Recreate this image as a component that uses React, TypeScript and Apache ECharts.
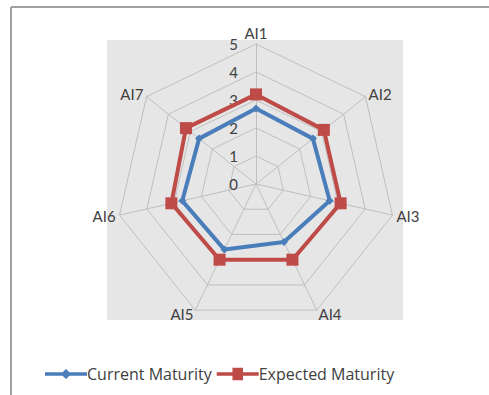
import React, { useEffect, useRef } from "react";
import * as echarts from "echarts";

const categories = ["AI1", "AI2", "AI3", "AI4", "AI5", "AI6", "AI7"];
const currentMaturity = [2.7, 2.6, 2.7, 2.3, 2.6, 2.7, 2.6];
const expectedMaturity = [3.2, 3.1, 3.1, 3.0, 3.0, 3.1, 3.2];
const seriesNames = ["Current Maturity", "Expected Maturity"];
const axisMax = 5;

// ECharts lays radar indicators counter-clockwise; reorder so they run clockwise like the reference
const order = [0, 6, 5, 4, 3, 2, 1];
const reorder = <T,>(arr: T[]) => order.map((i) => arr[i]);

const BLUE = "#4a7ebb";
const RED = "#be4b48";
const FONT = "Lato, 'Open Sans', sans-serif";
const LEGEND_FONT = "'Open Sans', Lato, sans-serif";

export default function App() {
  const ref = useRef<HTMLDivElement>(null);
  useEffect(() => {
    if (!ref.current) return;
    const chart = echarts.init(ref.current, undefined, { renderer: "svg" });
    chart.setOption({
      animation: false,
      backgroundColor: "#ffffff",
      textStyle: { fontFamily: FONT },
      graphic: [
        { type: "rect", shape: { x: 107, y: 40, width: 296, height: 280 }, style: { fill: "#e6e6e6" }, z: -10 },
        { type: "line", shape: { x1: 11, y1: 7, x2: 489, y2: 7 }, style: { stroke: "#a0a0a0", lineWidth: 2 } },
        { type: "line", shape: { x1: 11, y1: 7, x2: 11, y2: 395 }, style: { stroke: "#a0a0a0", lineWidth: 2 } },
      ],
      legend: {
        left: 45,
        top: 366,
        padding: 0,
        itemWidth: 42,
        itemHeight: 14,
        itemGap: 5,
        textStyle: { fontSize: 16, color: "#404040", fontFamily: LEGEND_FONT, padding: [0, 0, 0, -5] },
        data: [
          { name: seriesNames[0], icon: "path://M0,5H40V8.5H0Z M20,2L25,6.75L20,11.5L15,6.75Z", itemStyle: { color: BLUE } },
          { name: seriesNames[1], icon: "path://M0,5H40V8.5H0Z M15,0.75H25V12.75H15Z", itemStyle: { color: RED } },
        ],
      },
      radar: {
        center: [256, 184],
        radius: 140,
        startAngle: 90,
        shape: "polygon",
        splitNumber: 5,
        indicator: reorder(categories).map((name, i) =>
          i === 0
            ? { name, min: 0, max: axisMax, axisLabel: { show: true } }
            : { name, min: 0, max: axisMax }
        ),
        axisName: { color: "#404040", fontSize: 15, fontFamily: FONT },
        nameGap: 4,
        axisLabel: { show: false, fontSize: 15, color: "#404040", margin: 18, fontFamily: FONT },
        axisLine: { lineStyle: { color: "#bfbfbf", width: 1 } },
        axisTick: { show: false },
        splitLine: { lineStyle: { color: "#bfbfbf", width: 1 } },
        splitArea: { show: false },
      },
      series: [
        {
          type: "radar",
          data: [
            {
              name: seriesNames[0],
              value: reorder(currentMaturity),
              symbol: "diamond",
              symbolSize: 8,
              lineStyle: { color: BLUE, width: 4 },
              itemStyle: { color: BLUE },
            },
            {
              name: seriesNames[1],
              value: reorder(expectedMaturity),
              symbol: "rect",
              symbolSize: 12,
              lineStyle: { color: RED, width: 4 },
              itemStyle: { color: RED },
            },
          ],
        },
      ],
    });
    return () => chart.dispose();
  }, []);
  return <div ref={ref} style={{ position: "fixed", left: 0, top: 0, width: 489, height: 395 }} />;
}
